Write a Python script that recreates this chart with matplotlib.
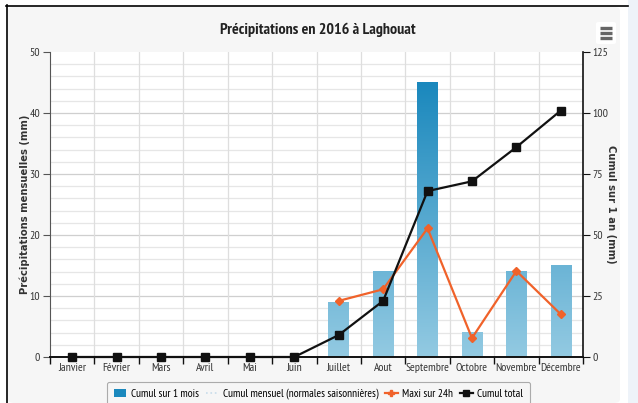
import matplotlib as mpl

mpl.use("Agg")

import matplotlib.pyplot as plt
import numpy as np
from matplotlib.colors import LinearSegmentedColormap
from matplotlib.lines import Line2D
from matplotlib.patches import FancyBboxPatch, Rectangle

months = ["Janvier", "Février", "Mars", "Avril", "Mai", "Juin", "Juillet",
          "Aout", "Septembre", "Octobre", "Novembre", "Décembre"]
cumul_mois = [0, 0, 0, 0, 0, 0, 9, 14, 45, 4, 14, 15]
maxi_24h = [None, None, None, None, None, None, 9.2, 11.1, 21.1, 3.1, 14.1, 7.0]
cumul_total = [0, 0, 0, 0, 0, 0, 9, 23, 68, 72, 86, 101]

narrow = ["PT Sans Narrow", "DejaVu Sans"]
plt.rcParams["font.family"] = narrow

fig = plt.figure(figsize=(6.38, 4.03), dpi=100)
fig.patch.set_facecolor("white")

W, H = 638.0, 403.0


def fx(px):
    return px / W


def fy(py):
    return 1.0 - py / H


# page background, screenshot frame and chart container
fig.add_artist(Rectangle((fx(628), 0), 1, 1, transform=fig.transFigure,
                         facecolor="#eef3f9", edgecolor="none", zorder=0))
fig.add_artist(FancyBboxPatch((fx(8), fy(403)), fx(620) - fx(8), fy(7) - fy(403),
                              boxstyle="round,pad=0,rounding_size=0.01",
                              transform=fig.transFigure, facecolor="#f6f6f6",
                              edgecolor="none", zorder=0))
fig.add_artist(Line2D([fx(6), fx(628)], [fy(5.5), fy(5.5)], transform=fig.transFigure,
                      color="black", linewidth=1.2, zorder=1))
fig.add_artist(Line2D([fx(6.5), fx(6.5)], [fy(5), 0], transform=fig.transFigure,
                      color="black", linewidth=1.2, zorder=1))

# menu button
fig.add_artist(FancyBboxPatch((fx(596), fy(44)), fx(20), fy(22) - fy(44),
                              boxstyle="round,pad=0,rounding_size=0.004",
                              transform=fig.transFigure, facecolor="white",
                              edgecolor="none", zorder=1))
for py in (28, 33, 38):
    fig.add_artist(Line2D([fx(600), fx(612)], [fy(py), fy(py)], transform=fig.transFigure,
                          color="#666666", linewidth=2.4, solid_capstyle="butt", zorder=2))

fig.text(fx(318), fy(30), "Précipitations en 2016 à Laghouat", ha="center", va="center",
         fontsize=11.5, fontweight="bold", color="#222222")

ax = fig.add_axes([fx(50), fy(357), fx(583) - fx(50), fy(52) - fy(357)])
ax.set_facecolor("white")
ax2 = ax.twinx()

x = np.arange(len(months))

# grid: minor every 2 mm, major every 10 mm, vertical at category edges
for v in np.arange(2, 50, 2):
    major = v % 10 == 0
    ax.axhline(v, color="#cfcfcf" if major else "#e6e6e6", linewidth=0.9, zorder=0)
for b in np.arange(0.5, len(months) - 0.5, 1):
    ax.axvline(b, color="#dedede", linewidth=0.9, zorder=0)

# gradient-filled bars, colour depends on height within the plot
cmap = LinearSegmentedColormap.from_list("bars", ["#93cae2", "#1a88bd"])
grad = np.linspace(0, 1, 256).reshape(-1, 1)
bar_w = 0.46
for xi, val in zip(x, cumul_mois):
    if val <= 0:
        continue
    frac = val / 45.0
    ax.imshow(grad[: int(256 * frac)], cmap=cmap, vmin=0, vmax=1, aspect="auto",
              origin="lower", extent=(xi - bar_w / 2, xi + bar_w / 2, 0, val),
              zorder=2, interpolation="bilinear")
ax.set_xlim(-0.5, len(months) - 0.5)
ax.set_ylim(0, 50)
ax2.set_ylim(0, 125)

mx = [xi for xi, v in zip(x, maxi_24h) if v is not None]
my = [v for v in maxi_24h if v is not None]
ax.plot(mx, my, color="#f0622a", linewidth=1.6, marker="D", markersize=4.5, zorder=4)

ax2.plot(x, cumul_total, color="#111111", linewidth=1.6, marker="s", markersize=6,
         zorder=5, clip_on=False)
ax2.set_zorder(ax.get_zorder() + 1)
ax2.patch.set_visible(False)

# axes styling
for a in (ax, ax2):
    for s in a.spines.values():
        s.set_visible(False)
ax.spines["left"].set_visible(True)
ax.spines["bottom"].set_visible(True)
ax2.spines["right"].set_visible(True)
ax.spines["left"].set_color("#555555")
ax.spines["bottom"].set_color("#111111")
ax.spines["bottom"].set_linewidth(1.4)
ax2.spines["right"].set_color("#111111")
ax2.spines["right"].set_linewidth(1.2)

ax.set_xticks(np.arange(-0.5, len(months), 1))
ax.set_xticklabels([])
ax.set_xticks(x, minor=True)
ax.set_xticklabels(months, minor=True, fontsize=8.5, color="#333333")
ax.tick_params(axis="x", which="major", length=5, color="#111111", width=1)
ax.tick_params(axis="x", which="minor", length=0, pad=4)

ax.set_yticks(np.arange(0, 51, 10))
ax.tick_params(axis="y", length=5, color="#555555", labelsize=8.5, labelcolor="#333333", pad=2)
ax2.set_yticks(np.arange(0, 126, 25))
ax2.tick_params(axis="y", length=5, color="#111111", labelsize=8.5, labelcolor="#333333", pad=2)

ax.set_ylabel("Précipitations mensuelles (mm)", fontsize=7.2, fontweight="bold",
              color="#333333", family="DejaVu Sans", labelpad=0)
ax2.set_ylabel("Cumul sur 1 an (mm)", fontsize=7.2, fontweight="bold", color="#333333",
               family="DejaVu Sans", rotation=270, labelpad=5)

# legend
handles = [
    Rectangle((0, 0), 1, 1, facecolor="#1a88bd", edgecolor="none"),
    Line2D([], [], color="#c8dceb", linewidth=1.2, linestyle=":"),
    Line2D([], [], color="#f0622a", linewidth=1.6, marker="P", markersize=5),
    Line2D([], [], color="#111111", linewidth=1.6, marker="s", markersize=5),
]
labels = ["Cumul sur 1 mois", "Cumul mensuel (normales saisonnières)", "Maxi sur 24h", "Cumul total"]
leg = fig.legend(handles, labels, loc="upper center", bbox_to_anchor=(fx(318.5), fy(376)),
                 ncol=4, frameon=True, handlelength=1.1, handletextpad=0.4,
                 columnspacing=0.6, borderpad=0.6, fancybox=True,
                 prop={"family": narrow, "size": 8.2})
leg.get_frame().set_edgecolor("#999999")
leg.get_frame().set_facecolor("#f6f6f6")
leg.get_frame().set_linewidth(0.8)

fig.savefig("out.png", dpi=100)
